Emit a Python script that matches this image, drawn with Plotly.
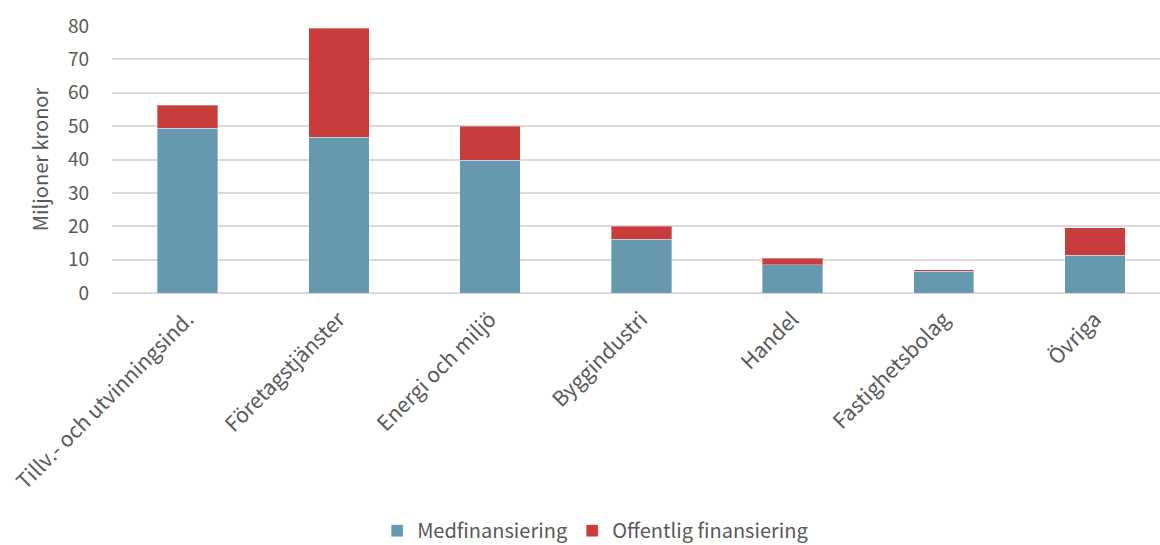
import plotly.graph_objects as go

categories = ["Tillv.- och utvinningsind.", "Företagstjänster", "Energi och miljö",
              "Byggindustri", "Handel", "Fastighetsbolag", "Övriga"]
medfinansiering = [49.3, 46.6, 39.8, 16.1, 8.4, 6.5, 11.3]
offentlig = [6.9, 32.7, 10.1, 3.9, 2.0, 0.4, 8.2]
y_ticks = [0, 10, 20, 30, 40, 50, 60, 70, 80]

FONT = "Noto Sans CJK JP, Noto Sans, sans-serif"
GREY = "#595959"

fig = go.Figure()
fig.add_trace(go.Bar(x=categories, y=medfinansiering, name="Medfinansiering",
                     marker=dict(color="#6698B0", line=dict(color="rgba(255,255,255,0.35)", width=1))))
fig.add_trace(go.Bar(x=categories, y=offentlig, name="Offentlig finansiering",
                     marker=dict(color="#C83C3C", line=dict(color="rgba(255,255,255,0.35)", width=1))))

fig.update_layout(
    barmode="stack",
    bargap=0.6,
    width=1160, height=545,
    margin=dict(l=112, r=0, t=26, b=252, autoexpand=False),
    plot_bgcolor="white", paper_bgcolor="white",
    font=dict(family=FONT, size=20, color=GREY),
    legend=dict(orientation="h", x=0.461, xanchor="center",
                y=-0.89, yanchor="middle", font=dict(size=20, color=GREY),
                traceorder="normal", itemwidth=30),
    xaxis=dict(range=[-0.5, 6.43], tickangle=-45, showgrid=False, showline=False,
               tickfont=dict(size=21, color=GREY), ticks="", automargin=False,
               ticklabelstandoff=9),
    yaxis=dict(range=[0, 80], tickvals=y_ticks, showgrid=True, gridcolor="#D9D9D9",
               gridwidth=2, zeroline=True, zerolinecolor="#D9D9D9", zerolinewidth=2,
               tickfont=dict(size=19, color=GREY), ticks="", ticklen=0, automargin=False,
               ticklabelstandoff=22,
               title=dict(text="Miljoner kronor", font=dict(size=20, color=GREY), standoff=13)),
)

fig.write_html("out.html", config={"displayModeBar": False},
               post_script="document.body.style.margin='0';")
